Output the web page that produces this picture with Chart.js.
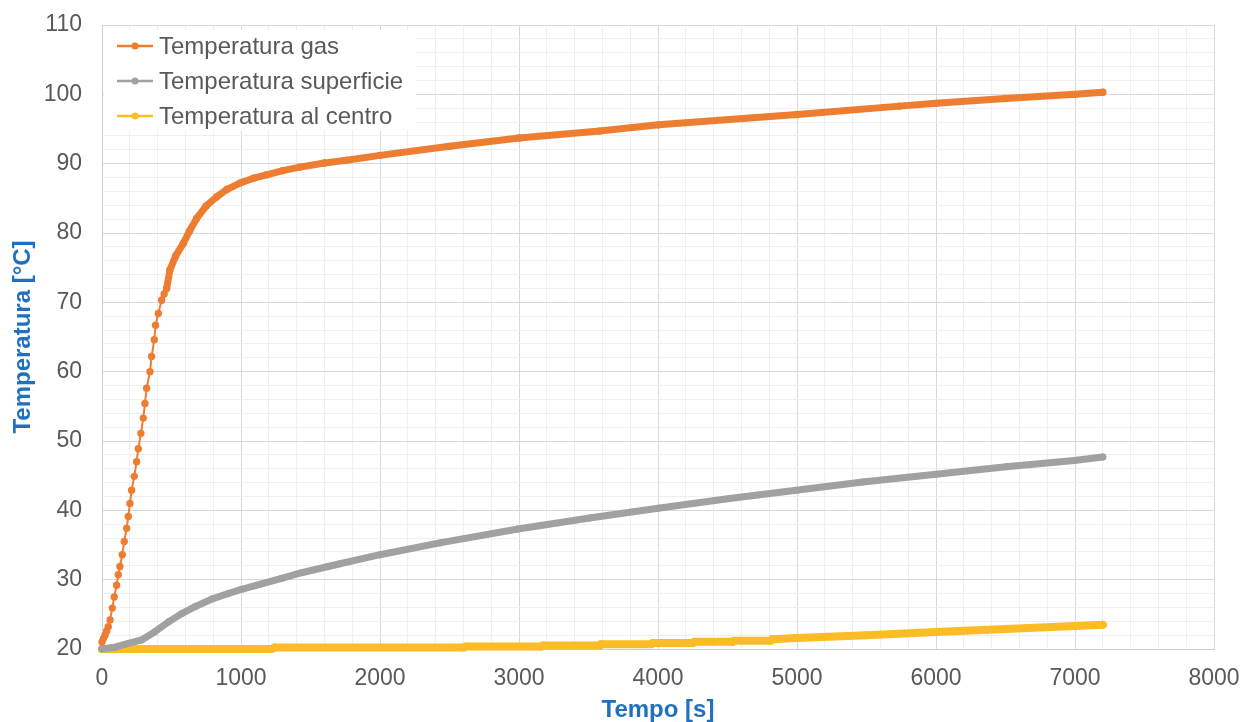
<!DOCTYPE html>
<html>
<head>
<meta charset="utf-8">
<script src="https://cdn.jsdelivr.net/npm/chart.js@4.4.0/dist/chart.umd.min.js"></script>
<style>
  html, body { margin: 0; padding: 0; background: #fff; }
  #wrap { width: 1245px; height: 722px; }
</style>
</head>
<body>
<div id="wrap"><canvas id="chart" width="1245" height="722"></canvas></div>
<script>
// ---- data: time [s] and temperature [°C] ----
const gasTime = [0, 10, 22, 34, 45, 58, 74, 88, 105, 117, 129, 146, 160, 177, 189, 201, 213, 232, 249, 261, 280, 297, 309, 321, 345, 357, 376, 385, 405, 429, 447, 465,
  489, 530, 585, 630, 681, 750, 824, 900, 992, 1090, 1184, 1300, 1423, 1600, 1759, 2000, 2500, 3000, 3580, 4004, 4610, 5001, 5737, 6000, 6500, 7000, 7200];
const gasTemp = [21.0, 21.5, 22.0, 22.6, 23.2, 24.2, 25.9, 27.5, 29.2, 30.7, 31.9, 33.6, 35.5, 37.4, 39.1, 41.0, 42.9, 44.9, 47.0, 48.9, 51.1, 53.3, 55.4, 57.6, 60.0, 62.2, 64.6, 66.7, 68.4, 70.3, 71.2, 72.0,
  74.7, 76.7, 78.5, 80.3, 82.1, 83.9, 85.2, 86.3, 87.2, 87.9, 88.4, 89.0, 89.5, 90.1, 90.5, 91.2, 92.5, 93.7, 94.7, 95.6, 96.5, 97.1, 98.3, 98.7, 99.4, 100.0, 100.3];

const surfTime = [0, 100, 189, 285, 381, 477, 573, 669, 789, 908, 1004, 1148, 1292, 1436, 1627, 1711, 2000, 2430, 2993, 3508, 4000, 4515, 4994, 5473, 6000, 6504, 6995, 7200];
const surfTemp = [20.0, 20.3, 20.8, 21.3, 22.5, 23.9, 25.1, 26.1, 27.2, 28.0, 28.6, 29.4, 30.2, 31.0, 31.9, 32.3, 33.6, 35.3, 37.3, 38.9, 40.3, 41.7, 42.9, 44.1, 45.2, 46.3, 47.2, 47.7];

const coreTime = [0, 1220, 1240, 2600, 2620, 3160, 3170, 3580, 3590, 3950, 3960, 4250, 4260, 4540, 4550, 4810, 4820, 5000, 5500, 6000, 6500, 7000, 7200];
const coreTemp = [20.0, 20.0, 20.2, 20.2, 20.35, 20.35, 20.5, 20.5, 20.7, 20.7, 20.85, 20.85, 21.05, 21.05, 21.2, 21.2, 21.4, 21.6, 22.0, 22.45, 22.9, 23.3, 23.5];

const seriesNames = ['Temperatura gas', 'Temperatura superficie', 'Temperatura al centro'];
const seriesColors = ['#ED7D31', '#A0A2A2', '#FBBC26'];

const xTitle = 'Tempo [s]';
const yTitle = 'Temperatura [°C]';

const toPoints = (xs, ys) => xs.map((x, i) => ({ x: x, y: ys[i] }));

// legend drawn inside the plot, on a white box, like the original
const innerLegend = {
  id: 'innerLegend',
  afterDatasetsDraw(chart) {
    const ctx = chart.ctx;
    const area = chart.chartArea;
    ctx.save();
    ctx.fillStyle = '#ffffff';
    ctx.fillRect(area.left + 2, area.top + 5, 312, 101);
    ctx.font = '24px "Liberation Sans", Arial, sans-serif';
    ctx.textBaseline = 'middle';
    seriesNames.forEach((name, i) => {
      const y = area.top + 21 + i * 35;
      ctx.strokeStyle = seriesColors[i];
      ctx.lineWidth = 2.5;
      ctx.beginPath();
      ctx.moveTo(area.left + 15, y);
      ctx.lineTo(area.left + 51, y);
      ctx.stroke();
      ctx.fillStyle = seriesColors[i];
      ctx.beginPath();
      ctx.arc(area.left + 33, y, 3.5, 0, Math.PI * 2);
      ctx.fill();
      ctx.fillStyle = '#595959';
      ctx.fillText(name, area.left + 57, y + 1);
    });
    ctx.restore();
  }
};

const majorGrid = '#d9d9d9';
const minorGrid = '#efefef';

new Chart(document.getElementById('chart'), {
  type: 'line',
  data: {
    datasets: [
      {
        label: seriesNames[0],
        data: toPoints(gasTime, gasTemp),
        borderColor: seriesColors[0],
        backgroundColor: seriesColors[0],
        borderWidth: 7,
        pointRadius: 3.7,
        pointBorderWidth: 0,
        segment: {
          borderWidth: ctx => (ctx.p1.parsed.x <= 440 ? 2 : (ctx.p1.parsed.x <= 470 ? 4.5 : 7))
        }
      },
      {
        label: seriesNames[1],
        data: toPoints(surfTime, surfTemp),
        borderColor: seriesColors[1],
        backgroundColor: seriesColors[1],
        borderWidth: 7,
        pointRadius: 3.5,
        pointBorderWidth: 0
      },
      {
        label: seriesNames[2],
        data: toPoints(coreTime, coreTemp),
        borderColor: seriesColors[2],
        backgroundColor: seriesColors[2],
        borderWidth: 8,
        pointRadius: 4,
        pointBorderWidth: 0
      }
    ]
  },
  options: {
    responsive: false,
    animation: false,
    devicePixelRatio: 1,
    clip: false,
    layout: { padding: { top: 25, right: 31, left: 0, bottom: 0 } },
    elements: { line: { tension: 0, borderJoinStyle: 'round', borderCapStyle: 'round' } },
    plugins: {
      legend: { display: false },
      tooltip: { enabled: false }
    },
    scales: {
      x: {
        type: 'linear',
        min: 0,
        max: 8000,
        afterFit: s => { s.height = 73; s.paddingLeft = 0; s.paddingRight = 0; },
        border: { display: true, color: '#cfcfcf', width: 1 },
        grid: {
          drawTicks: false,
          color: c => (c.tick && c.tick.value % 1000 === 0 ? majorGrid : minorGrid)
        },
        ticks: {
          stepSize: 200,
          autoSkip: false,
          maxRotation: 0,
          padding: 16,
          color: '#595959',
          font: { family: '"Liberation Sans", Arial, sans-serif', size: 23 },
          callback: v => (v % 1000 === 0 ? String(v) : '')
        },
        title: {
          display: true,
          text: xTitle,
          color: '#1F70C1',
          font: { family: '"Liberation Sans", Arial, sans-serif', size: 24, weight: 'bold' },
          padding: { top: 0, bottom: -3 }
        }
      },
      y: {
        min: 20,
        max: 110,
        afterFit: s => { s.width = 102; s.paddingTop = 0; s.paddingBottom = 0; },
        border: { display: true, color: '#cfcfcf', width: 1 },
        grid: {
          drawTicks: false,
          color: c => (c.tick && c.tick.value % 10 === 0 ? majorGrid : minorGrid)
        },
        ticks: {
          stepSize: 2,
          autoSkip: false,
          padding: 20,
          color: '#595959',
          font: { family: '"Liberation Sans", Arial, sans-serif', size: 23 },
          callback: v => (v % 10 === 0 ? String(v) : '')
        },
        title: {
          display: true,
          text: yTitle,
          color: '#1F70C1',
          font: { family: '"Liberation Sans", Arial, sans-serif', size: 24, weight: 'bold' },
          padding: { top: 9, bottom: 0 }
        }
      }
    }
  },
  plugins: [innerLegend]
});
</script>
</body>
</html>
